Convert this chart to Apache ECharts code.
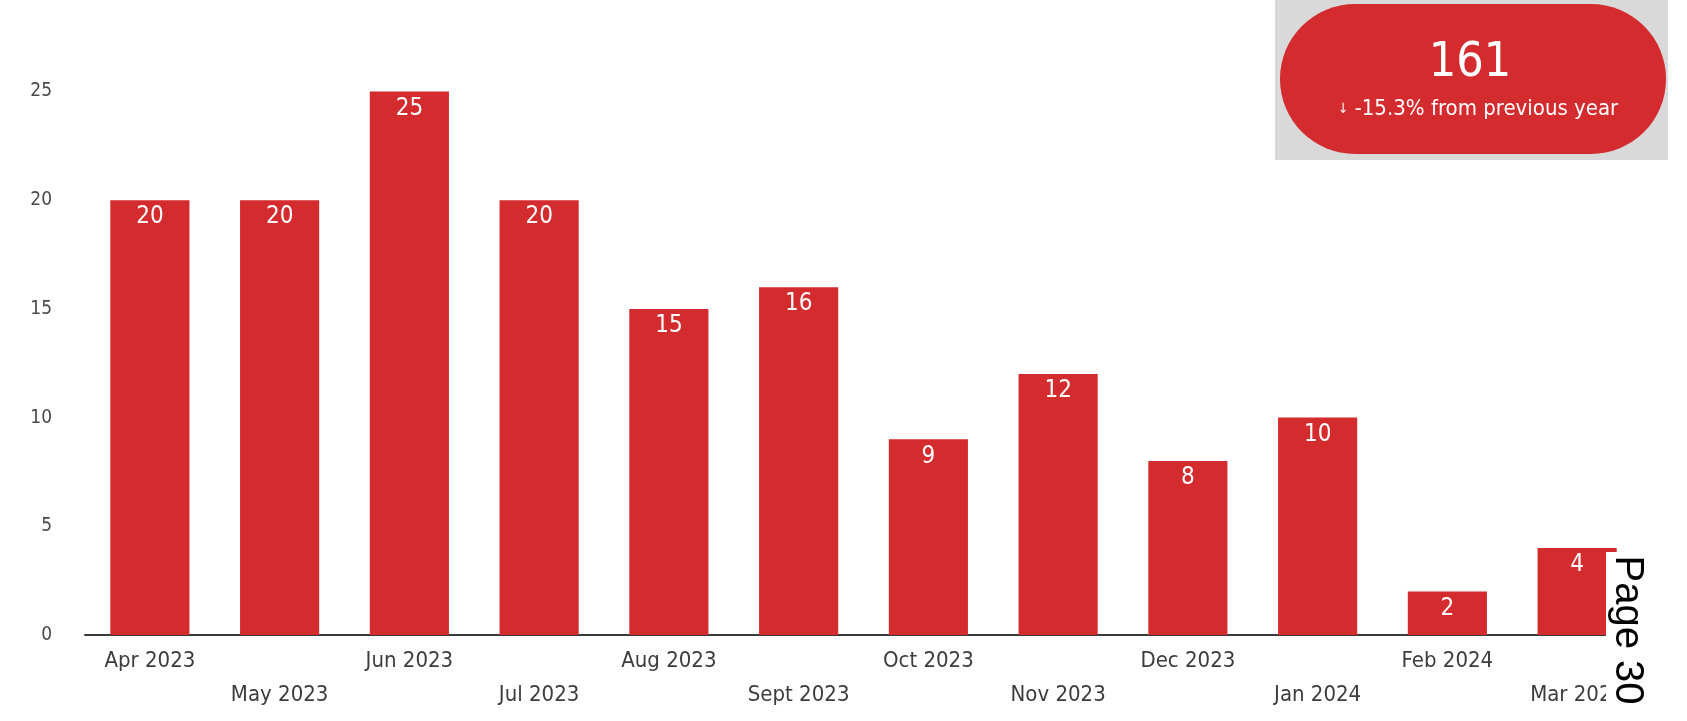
<!DOCTYPE html>
<html>
<head>
<meta charset="utf-8">
<style>
  html, body { margin: 0; padding: 0; background: #ffffff; }
  #chart { width: 1687px; height: 721px; }
</style>
<script src="https://cdn.jsdelivr.net/npm/echarts@6/dist/echarts.min.js"></script>
</head>
<body>
<div id="chart"></div>
<script>
// Monthly counts, April 2023 to March 2024
const months = ['Apr 2023', 'May 2023', 'Jun 2023', 'Jul 2023', 'Aug 2023', 'Sept 2023',
                'Oct 2023', 'Nov 2023', 'Dec 2023', 'Jan 2024', 'Feb 2024', 'Mar 2024'];
const counts = [20, 20, 25, 20, 15, 16, 9, 12, 8, 10, 2, 4];

// Headline card
const yearTotal = counts.reduce((a, b) => a + b, 0);
const changeText = '-15.3% from previous year';
const pageLabel = 'Page 30';

const labelFont = 'DejaVu Sans Condensed, DejaVu Sans, sans-serif';
const red = '#D42B2E';

const chart = echarts.init(document.getElementById('chart'), null, { renderer: 'canvas' });

chart.setOption({
  animation: false,
  backgroundColor: '#ffffff',
  grid: { left: 85, right: 45, top: 91.5, bottom: 86, containLabel: false },
  xAxis: {
    type: 'category',
    data: months,
    axisTick: { show: false },
    axisLine: { lineStyle: { color: '#3a3a3a', width: 2 } },
    axisLabel: {
      interval: 0,
      margin: 9,
      lineHeight: 34,
      fontSize: 22,
      color: '#3c3c3c',
      fontFamily: labelFont,
      // alternate labels drop to a second row
      formatter: (v, i) => (i % 2 ? '\n' + v : v)
    }
  },
  yAxis: {
    type: 'value',
    min: 0,
    max: 25,
    interval: 5,
    splitLine: { show: false },
    axisLine: { show: false },
    axisTick: { show: false },
    axisLabel: { fontSize: 19, color: '#4a4a4a', margin: 33, fontFamily: labelFont }
  },
  series: [{
    type: 'bar',
    data: counts,
    barWidth: '61%',
    itemStyle: { color: red },
    label: {
      show: true,
      position: 'insideTop',
      distance: 5,
      color: '#ffffff',
      fontSize: 24,
      fontFamily: labelFont
    }
  }],
  graphic: [
    // headline card
    {
      type: 'rect',
      shape: { x: 1275, y: 0, width: 393, height: 160 },
      style: { fill: '#D9D9D9' },
      z: 10
    },
    {
      type: 'rect',
      shape: { x: 1280, y: 4, width: 386, height: 150, r: 75 },
      style: { fill: red },
      z: 11
    },
    {
      type: 'text',
      x: 1470, y: 64,
      style: {
        text: String(yearTotal),
        fill: '#ffffff',
        font: '48px ' + labelFont,
        align: 'center',
        verticalAlign: 'middle'
      },
      z: 12
    },
    {
      type: 'text',
      x: 1478, y: 109,
      style: {
        text: '{a|↓} ' + changeText,
        rich: { a: { fontSize: 14, fill: '#ffffff', fontFamily: labelFont } },
        fill: '#ffffff',
        font: '22px ' + labelFont,
        align: 'center',
        verticalAlign: 'middle'
      },
      z: 12
    },
    // page marker on the lower right edge
    {
      type: 'rect',
      shape: { x: 1606, y: 552, width: 81, height: 169 },
      style: { fill: '#ffffff' },
      z: 20
    },
    {
      type: 'text',
      x: 1627, y: 630,
      rotation: -Math.PI / 2,
      style: {
        text: pageLabel,
        fill: '#000000',
        font: '40px "Liberation Sans", Arial, sans-serif',
        align: 'center',
        verticalAlign: 'middle'
      },
      z: 21
    }
  ]
});
</script>
</body>
</html>
